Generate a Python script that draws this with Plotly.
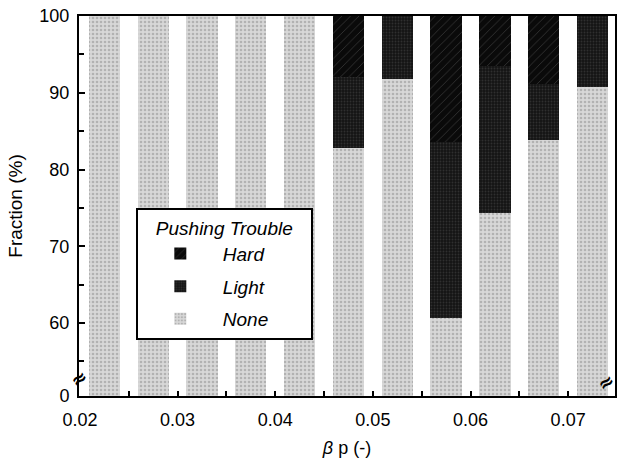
import plotly.graph_objects as go

# Data
beta_p = [0.0225, 0.0275, 0.0325, 0.0375, 0.0425, 0.0475, 0.0525, 0.0575, 0.0625, 0.0675, 0.0725]
none_pct = [100, 100, 100, 100, 100, 82.8, 91.8, 60.6, 74.3, 83.8, 90.7]
light_pct = [0, 0, 0, 0, 0, 9.3, 8.2, 23.0, 19.2, 7.4, 9.3]
hard_pct = [0, 0, 0, 0, 0, 7.9, 0, 16.4, 6.5, 8.8, 0]

y_tickvals = [50.5, 60, 70, 80, 90, 100]
y_ticktext = ["0", "60", "70", "80", "90", "100"]
x_tickvals = [0.02, 0.03, 0.04, 0.05, 0.06, 0.07]
x_ticktext = ["0.02", "0.03", "0.04", "0.05", "0.06", "0.07"]

FONT = "Liberation Sans, Arial, sans-serif"
BW = 0.0032

fig = go.Figure()
fig.add_trace(go.Bar(
    x=beta_p, y=none_pct, width=BW, name="<i>None</i>", legendgroup="n", legendrank=3,
    marker=dict(color="#d2d2d2", line=dict(width=0),
                pattern=dict(shape=".", bgcolor="#d8d8d8", fgcolor="#8c8c8c", size=4, solidity=0.35)),
))
fig.add_trace(go.Bar(
    x=beta_p, y=light_pct, width=BW, name="<i>Light</i>", legendgroup="l", legendrank=2,
    marker=dict(color="#161616", line=dict(width=0),
                pattern=dict(shape=".", bgcolor="#141414", fgcolor="#4a4a4a", size=3, solidity=0.3)),
))
fig.add_trace(go.Bar(
    x=beta_p, y=hard_pct, width=BW, name="<i>Hard</i>", legendgroup="h", legendrank=1,
    marker=dict(color="#0a0a0a", line=dict(width=0),
                pattern=dict(shape="/", bgcolor="#0a0a0a", fgcolor="#5e5e5e", size=6, solidity=0.14)),
))

fig.update_layout(
    width=621, height=459,
    margin=dict(l=79, r=4, t=16, b=63),
    barmode="stack",
    plot_bgcolor="white", paper_bgcolor="white",
    font=dict(family=FONT, size=18, color="black"),
    legend=dict(
        title=dict(text="&nbsp;&nbsp;&nbsp;<i>Pushing Trouble</i>&nbsp;&nbsp;&nbsp;",
                   side="top center", font=dict(size=19)),
        traceorder="grouped", tracegroupgap=5,
        x=0.106, y=0.495, xanchor="left", yanchor="top",
        bgcolor="white", bordercolor="black", borderwidth=2,
        font=dict(size=19), itemwidth=75,
    ),
    xaxis=dict(
        range=[0.0199, 0.0748], tickvals=x_tickvals, ticktext=x_ticktext,
        ticks="inside", ticklen=5, tickwidth=1.5, tickcolor="black",
        minor=dict(dtick=0.005, tick0=0.02, ticks="inside", ticklen=5, tickcolor="black"),
        showline=True, linecolor="black", linewidth=2, mirror=True,
        showgrid=False, zeroline=False, ticklabelstandoff=6,
        title=dict(text="<i>β</i> p (-)", font=dict(size=18), standoff=13),
    ),
    yaxis=dict(
        range=[50.5, 100], tickvals=y_tickvals, ticktext=y_ticktext,
        ticks="inside", ticklen=6, tickwidth=1.5, tickcolor="black",
        minor=dict(tickvals=[55, 65, 75, 85, 95], ticks="inside", ticklen=5, tickcolor="black"),
        showline=True, linecolor="black", linewidth=2, mirror=True,
        showgrid=False, zeroline=False, ticklabelstandoff=4,
        title=dict(text="Fraction (%)", font=dict(size=19), standoff=12),
    ),
)

for xp, yv, xs in [(0, 52.8, 0), (1, 52.3, -9)]:
    fig.add_annotation(x=xp, y=yv, xref="paper", yref="y", text="<b>≈</b>",
                       xanchor="center", yanchor="middle", xshift=xs,
                       showarrow=False, textangle=-35,
                       font=dict(size=19, color="black", family="DejaVu Sans"))

fig.write_html("out.html")
